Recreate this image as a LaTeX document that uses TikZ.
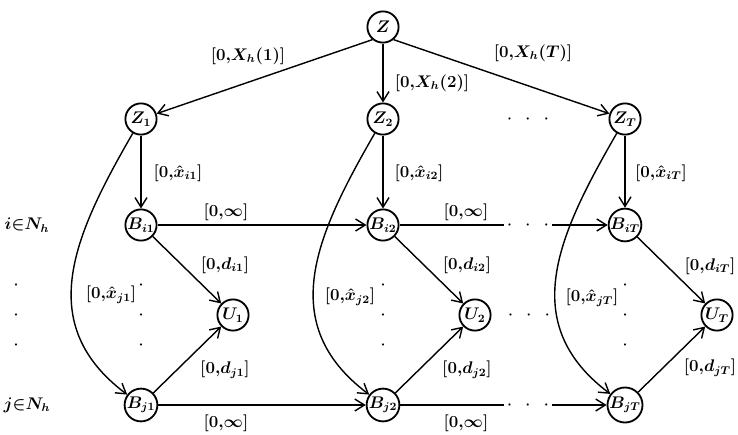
\documentclass[tikz,border=0pt]{standalone}
\usetikzlibrary{arrows.meta, positioning}
\tikzset{
  vert/.style={draw, circle, line width=1.3pt, minimum size=0.78cm,
    inner sep=0pt, font=\large\boldmath},
  lbl/.style={font=\large\boldmath, inner sep=1pt},
  arr/.style={-{Straight Barb[length=2.4mm, width=3mm]}, line width=1pt},
  seg/.style={line width=1pt},
  hdots/.style={minimum width=1.2cm, inner sep=0pt, font=\boldmath},
  vdots/.style={align=center, inner sep=0pt, font=\boldmath},
}
\newcommand{\hdotrow}{$\cdot\hspace{7.4pt}\cdot\hspace{7.4pt}\cdot$}
\newcommand{\vdotcol}{$\cdot$\\[9.3pt]$\cdot$\\[9.3pt]$\cdot$}

\begin{document}
\begin{tikzpicture}[on grid]
    \useasboundingbox (0,0) rectangle (18.45,-10.85);
    % source and periods
    \node[vert] (z) at (9.575,-0.675) {$Z$};
    \node[vert, below=2.3cm of z] (z2) {$Z_2$};
    \node[vert, left=6.05cm of z2] (z1) {$Z_1$};
    \node[vert, right=6.05cm of z2] (zT) {$Z_T$};
    % buyers i and j, sinks
    \node[vert, below=2.65cm of z1] (bi1) {$B_{i1}$};
    \node[vert, below=2.65cm of z2] (bi2) {$B_{i2}$};
    \node[vert, below=2.65cm of zT] (biT) {$B_{iT}$};
    \node[vert, below=4.5cm of bi1] (bj1) {$B_{j1}$};
    \node[vert, below=4.5cm of bi2] (bj2) {$B_{j2}$};
    \node[vert, below=4.5cm of biT] (bjT) {$B_{jT}$};
    \node[vert, below right=2.25cm and 2.3cm of bi1] (u1) {$U_1$};
    \node[vert, below right=2.25cm and 2.3cm of bi2] (u2) {$U_2$};
    \node[vert, below right=2.25cm and 2.3cm of biT] (uT) {$U_T$};
    \node[lbl, left=2.85cm of bi1] (ni) {$i{\in}N_h$};
    \node[lbl, left=2.85cm of bj1] (nj) {$j{\in}N_h$};
    % dots
    \node[hdots, right=3.625cm of z2] (dz) {\hdotrow};
    \node[hdots, right=3.625cm of bi2] (dbi) {\hdotrow};
    \node[hdots, right=3.625cm of bj2] (dbj) {\hdotrow};
    \node[hdots, right=1.35cm of u2] (du) {\hdotrow};
    \node[vdots, below=2.25cm of bi1] (vd1) {\vdotcol};
    \node[vdots, below=2.25cm of bi2] (vd2) {\vdotcol};
    \node[vdots, below=2.25cm of biT] (vdT) {\vdotcol};
    \node[vdots, left=3.125cm of vd1] (vd0) {\vdotcol};
    % arcs
    \draw[arr] (z.-130) -- (z1);
    \draw[arr] (z) -- (z2);
    \draw[arr] (z.-50) -- (zT);
    \draw[arr] (z1) -- (bi1);
    \draw[arr] (z2) -- (bi2);
    \draw[arr] (zT) -- (biT);
    \draw[arr] (z1) to[out=-120, in=143, looseness=1.15] (bj1);
    \draw[arr] (z2) to[out=-120, in=143, looseness=1.15] (bj2);
    \draw[arr] (zT) to[out=-120, in=143, looseness=1.15] (bjT);
    \draw[arr] (bi1) -- (bi2);
    \draw[seg] (bi2) -- (dbi);
    \draw[arr] (dbi) -- (biT);
    \draw[arr] (bj1) -- (bj2);
    \draw[seg] (bj2) -- (dbj);
    \draw[arr] (dbj) -- (bjT);
    \draw[arr] (bi1) -- (u1);
    \draw[arr] (bj1) -- (u1);
    \draw[arr] (bi2) -- (u2);
    \draw[arr] (bj2) -- (u2);
    \draw[arr] (biT) -- (uT);
    \draw[arr] (bjT) -- (uT);
    % capacities
    \node[lbl] (lx1) at (6.2,-1.4) {$[0{,}X_h(1)]$};
    \node[lbl] (lx2) at (10.8,-2.075) {$[0{,}X_h(2)]$};
    \node[lbl] (lxT) at (13.325,-1.325) {$[0{,}X_h(T)]$};
    \node[lbl] (lzi1) at (4.45,-4.325) {$[0{,}\hat{x}_{i1}]$};
    \node[lbl] (lzi2) at (10.475,-4.325) {$[0{,}\hat{x}_{i2}]$};
    \node[lbl] (lziT) at (16.525,-4.325) {$[0{,}\hat{x}_{iT}]$};
    \node[lbl] (linf1) at (5.65,-5.3) {$[0{,}\infty]$};
    \node[lbl] (linf2) at (11.65,-5.3) {$[0{,}\infty]$};
    \node[lbl] (ldi1) at (5.625,-6.625) {$[0{,}d_{i1}]$};
    \node[lbl] (ldi2) at (11.675,-6.625) {$[0{,}d_{i2}]$};
    \node[lbl] (ldiT) at (17.75,-6.65) {$[0{,}d_{iT}]$};
    \node[lbl] (lzj1) at (2.775,-7.375) {$[0{,}\hat{x}_{j1}]$};
    \node[lbl] (lzj2) at (8.75,-7.425) {$[0{,}\hat{x}_{j2}]$};
    \node[lbl] (lzjT) at (14.8,-7.45) {$[0{,}\hat{x}_{jT}]$};
    \node[lbl] (ldj1) at (5.625,-9.25) {$[0{,}d_{j1}]$};
    \node[lbl] (ldj2) at (11.675,-9.25) {$[0{,}d_{j2}]$};
    \node[lbl] (ldjT) at (17.75,-9.2) {$[0{,}d_{jT}]$};
    \node[lbl] (linf3) at (5.65,-10.575) {$[0{,}\infty]$};
    \node[lbl] (linf4) at (11.65,-10.575) {$[0{,}\infty]$};
\end{tikzpicture}
\end{document}
